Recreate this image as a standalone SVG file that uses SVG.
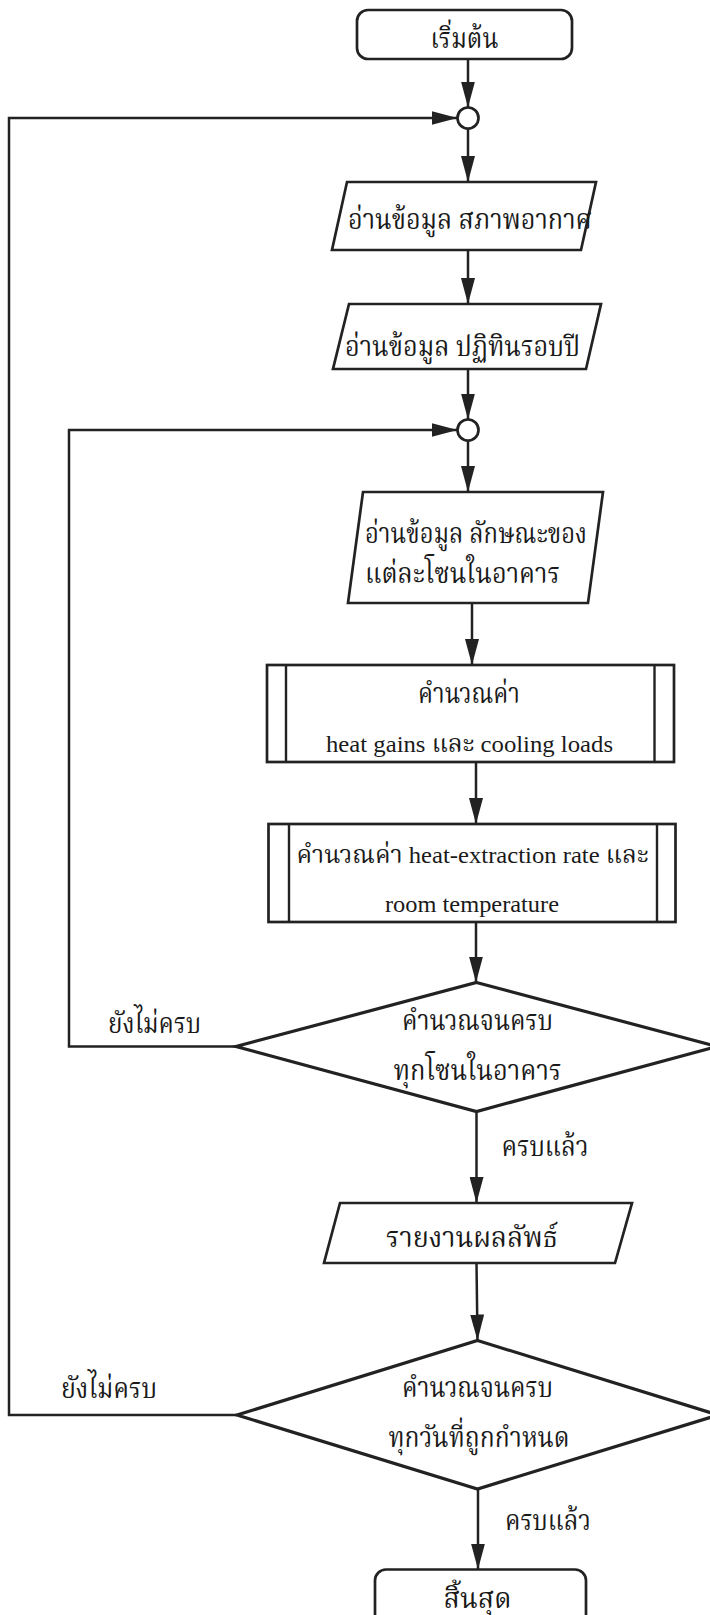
<svg xmlns="http://www.w3.org/2000/svg" width="710" height="1615" viewBox="0 0 710 1615">
<defs>
<marker id="ah" markerUnits="userSpaceOnUse" markerWidth="26" markerHeight="14" refX="26" refY="7" orient="auto">
<path d="M0,0 L26,7 L0,14 z" fill="#222"/>
</marker>
<style>
.shape{fill:#fff;stroke:#222;stroke-width:2.7}
.dia{fill:#fff;stroke:#222;stroke-width:3.2}
.ln{fill:none;stroke:#222;stroke-width:2.4}
.conn{fill:none;stroke:#222;stroke-width:2.5;marker-end:url(#ah)}
text{font-family:'Liberation Serif','Norasi','Noto Serif Thai','Noto Sans Thai',serif;fill:#1a1a1a;font-size:28px}
.en{font-size:24px}
.c{text-anchor:middle}
</style>
</defs>
<rect width="710" height="1615" fill="#fff"/>
<g id="connectors">
<path class="conn" d="M468,59 L468,107.5"/>
<path class="conn" d="M468,128.5 L468,182"/>
<path class="conn" d="M468,250 L468,304"/>
<path class="conn" d="M468,369 L468,419.5"/>
<path class="conn" d="M468,440.5 L468,492"/>
<path class="conn" d="M472,603 L472,665"/>
<path class="conn" d="M476,762 L476,824"/>
<path class="conn" d="M476,922 L476,982.5"/>
<path class="conn" d="M476.5,1111.5 L476.5,1203"/>
<path class="conn" d="M476.5,1263 L477.5,1340.5"/>
<path class="conn" d="M478,1489 L478,1569.5"/>
<path class="conn" d="M236,1046.5 L69,1046.5 L69,430 L457.5,430"/>
<path class="conn" d="M237,1415 L9,1415 L9,118 L457.5,118"/>
<text x="108" y="1033" textLength="93" lengthAdjust="spacingAndGlyphs">ยังไม่ครบ</text>
<text x="501.5" y="1156" textLength="87" lengthAdjust="spacingAndGlyphs">ครบแล้ว</text>
<text x="61" y="1398" textLength="96" lengthAdjust="spacingAndGlyphs">ยังไม่ครบ</text>
<text x="505" y="1530" textLength="86" lengthAdjust="spacingAndGlyphs">ครบแล้ว</text>
</g>
<g id="start">
<rect class="shape" x="357" y="10" width="215" height="49" rx="11"/>
<text class="c" x="464.5" y="48" textLength="68" lengthAdjust="spacingAndGlyphs">เริ่มต้น</text>
</g>
<g id="junction1">
<circle class="shape" cx="468" cy="118" r="10.5"/>
</g>
<g id="read-weather">
<polygon class="shape" points="347,182 596,182 581,250 332,250"/>
<text x="348" y="229" textLength="244" lengthAdjust="spacingAndGlyphs">อ่านข้อมูล สภาพอากาศ</text>
</g>
<g id="read-calendar">
<polygon class="shape" points="349,304 601,304 586,369 333,369"/>
<text x="345" y="356" textLength="235" lengthAdjust="spacingAndGlyphs">อ่านข้อมูล ปฏิทินรอบปี</text>
</g>
<g id="junction2">
<circle class="shape" cx="468" cy="430" r="10.5"/>
</g>
<g id="read-zones">
<polygon class="shape" points="363,492 603,492 588,603 348,603"/>
<text x="365" y="543" textLength="222" lengthAdjust="spacingAndGlyphs">อ่านข้อมูล ลักษณะของ</text>
<text x="365" y="583" textLength="195" lengthAdjust="spacingAndGlyphs">แต่ละโซนในอาคาร</text>
</g>
<g id="calc-loads">
<rect class="shape" x="267" y="665" width="407" height="97"/>
<line class="ln" x1="286" y1="665" x2="286" y2="762"/>
<line class="ln" x1="654.5" y1="665" x2="654.5" y2="762"/>
<text class="c" x="469" y="703" textLength="102" lengthAdjust="spacingAndGlyphs">คำนวณค่า</text>
<text class="c en" x="469.5" y="752" textLength="287" lengthAdjust="spacingAndGlyphs">heat gains และ cooling loads</text>
</g>
<g id="calc-extraction">
<rect class="shape" x="268.5" y="824" width="407" height="98"/>
<line class="ln" x1="289" y1="824" x2="289" y2="922"/>
<line class="ln" x1="657" y1="824" x2="657" y2="922"/>
<text class="c en" x="472.5" y="863" textLength="352" lengthAdjust="spacingAndGlyphs">คำนวณค่า heat-extraction rate และ</text>
<text class="c en" x="472" y="911.5" textLength="174" lengthAdjust="spacingAndGlyphs">room temperature</text>
</g>
<g id="decision-zones">
<polygon class="dia" points="476.5,982.5 717,1046.5 476.5,1111.5 236,1046.5"/>
<text class="c" x="477.5" y="1030" textLength="151" lengthAdjust="spacingAndGlyphs">คำนวณจนครบ</text>
<text class="c" x="477.5" y="1080" textLength="168" lengthAdjust="spacingAndGlyphs">ทุกโซนในอาคาร</text>
</g>
<g id="report">
<polygon class="shape" points="340,1203 632,1203 615,1263 324,1263"/>
<text class="c" x="472" y="1246.5" textLength="172" lengthAdjust="spacingAndGlyphs">รายงานผลลัพธ์</text>
</g>
<g id="decision-days">
<polygon class="dia" points="477.5,1340.5 718,1415 477.5,1489 237,1415"/>
<text class="c" x="477.5" y="1396.5" textLength="151" lengthAdjust="spacingAndGlyphs">คำนวณจนครบ</text>
<text class="c" x="479" y="1446.5" textLength="181" lengthAdjust="spacingAndGlyphs">ทุกวันที่ถูกกำหนด</text>
</g>
<g id="end">
<rect class="shape" x="375" y="1569.5" width="211" height="60" rx="11"/>
<text class="c" x="477.5" y="1608" textLength="68" lengthAdjust="spacingAndGlyphs">สิ้นสุด</text>
</g>
</svg>
